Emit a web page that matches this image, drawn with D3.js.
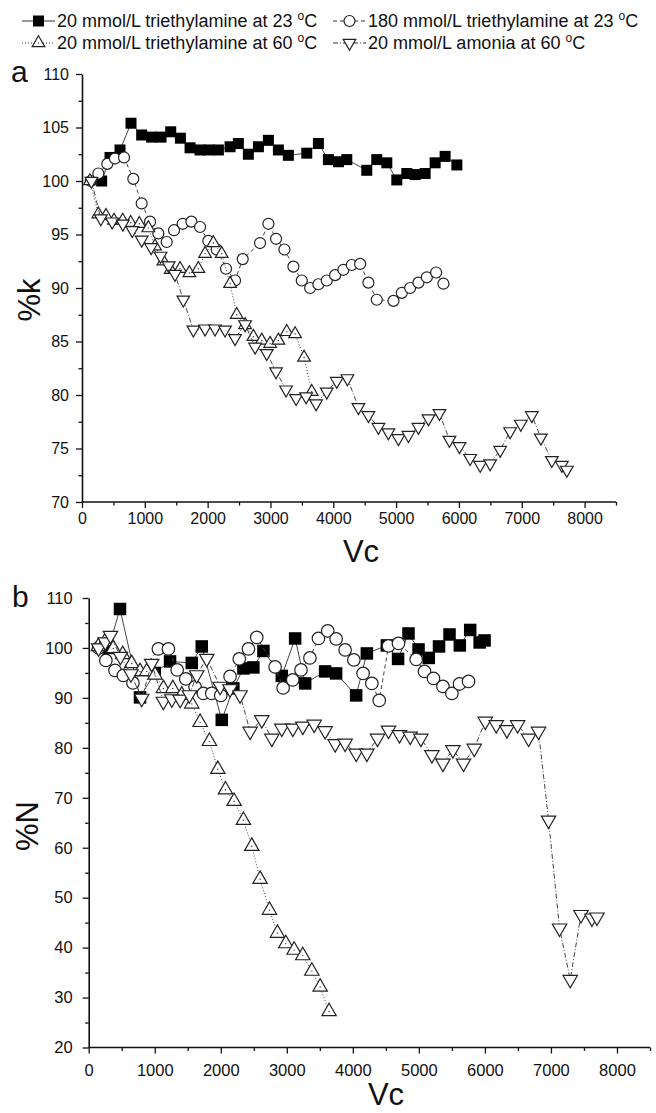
<!DOCTYPE html>
<html>
<head>
<meta charset="utf-8">
<script src="https://cdn.jsdelivr.net/npm/d3@7"></script>
<style>
  body { margin: 0; background: #fff; }
  svg text { font-family: "Liberation Sans", Arial, sans-serif; fill: #111; }
  .axis path, .axis line { stroke: #111; }
  .axis path { stroke-width: 1.6; }
  .axis line { stroke-width: 1.3; }
</style>
</head>
<body>
<div id="chart"></div>
<script>
// series: [Vc, value]
// panel a, %k
var kTEA20at23 = [[313,100],[446,102.2],[605,102.9],[780,105.4],[950,104.3],[1109,104.1],[1258,104.1],[1412,104.6],[1566,104.0],[1720,103.1],[1879,102.9],[2022,102.9],[2171,102.9],[2357,103.2],[2489,103.5],[2648,102.5],[2808,103.2],[2967,103.8],[3126,102.9],[3285,102.4],[3578,102.6],[3763,103.5],[3922,102.0],[4082,101.8],[4215,102.0],[4533,101.0],[4692,102.0],[4852,101.7],[5011,100.1],[5170,100.7],[5303,100.6],[5462,100.7],[5621,101.7],[5780,102.3],[5967,101.5]];
var kTEA180at23 = [[140,100],[260,100.7],[403,101.6],[525,102.1],[669,102.2],[817,100.2],[950,97.9],[1083,96.2],[1215,95.1],[1348,94.3],[1465,95.4],[1603,96.0],[1741,96.2],[1879,95.7],[2011,94.4],[2144,93.6],[2293,91.8],[2436,90.7],[2558,92.7],[2834,94.2],[2967,96.0],[3089,94.6],[3222,93.6],[3365,92.0],[3498,90.7],[3631,90.0],[3763,90.35],[3896,90.7],[4029,91.2],[4161,91.7],[4294,92.15],[4427,92.25],[4559,90.5],[4692,88.9],[4958,88.8],[5091,89.55],[5223,90.0],[5355,90.5],[5489,91.0],[5637,91.45],[5753,90.4]];
var kTEA20at60 = [[127,100],[260,96.9],[382,96.75],[510,96.3],[648,96.3],[775,96.1],[913,96.0],[1056,95.6],[1162,93.9],[1295,92.5],[1412,91.7],[1561,91.8],[1709,91.4],[1852,91.8],[1959,93.2],[2091,94.2],[2224,93.2],[2357,90.4],[2463,87.5],[2596,86.55],[2728,85.45],[2861,85.1],[2994,84.8],[3126,85.1],[3259,85.9],[3392,85.7],[3535,83.5],[3657,80.3]];
var kNH3at60 = [[150,100],[300,96.5],[480,96.2],[650,96.0],[800,95.4],[950,94.5],[1100,93.8],[1250,93.0],[1380,92.1],[1480,91.3],[1613,88.9],[1773,86.1],[1959,86.2],[2118,86.2],[2277,86.1],[2436,85.3],[2596,86.6],[2755,84.5],[2941,83.9],[3089,82.2],[3248,80.5],[3408,79.7],[3567,79.85],[3726,79.2],[3896,80.3],[4055,81.3],[4225,81.55],[4400,78.85],[4559,78.1],[4718,77.0],[4877,76.5],[5037,75.95],[5196,76.25],[5355,77.0],[5515,77.8],[5690,78.3],[5849,75.8],[6008,75.2],[6178,74.1],[6338,73.45],[6497,73.6],[6656,74.85],[6815,76.6],[6985,77.3],[7160,78.1],[7304,76.0],[7479,73.9],[7638,73.45],[7718,73.0]];

// panel b, %N
var nTEA20at23 = [[300,100],[474,107.8],[777,90.1],[1000,95],[1232,97.3],[1561,97.0],[1712,100.3],[2015,85.6],[2191,91.9],[2343,95.9],[2494,96.1],[2646,99.4],[2924,94.4],[3126,101.9],[3278,92.9],[3580,95.3],[3747,94.9],[4050,90.5],[4212,98.9],[4515,100.5],[4685,97.8],[4843,102.9],[4995,99.7],[5150,98.0],[5305,100.3],[5464,102.7],[5620,100.5],[5777,103.6],[5920,101.1],[5995,101.5]];
var nTEA180at23 = [[150,100],[260,97.5],[398,95.5],[525,94.5],[670,93.0],[1055,99.8],[1207,99.8],[1340,95.6],[1470,93.8],[1611,92.2],[1737,90.9],[1864,90.9],[2000,90.5],[2141,94.3],[2280,97.8],[2419,99.8],[2545,102.1],[2823,96.2],[2944,92.0],[3090,93.6],[3215,95.6],[3350,98.0],[3479,101.9],[3620,103.4],[3747,101.8],[3883,99.6],[4015,97.6],[4155,94.9],[4288,92.9],[4400,89.5],[4540,100.4],[4691,100.9],[4959,97.7],[5085,95.3],[5221,93.9],[5364,92.3],[5500,90.9],[5615,92.8],[5752,93.3]];
var nTEA20at60 = [[146,100.3],[247,101.3],[373,99.9],[515,98.7],[651,96.9],[777,95.3],[879,95.3],[1005,94.6],[1131,91.9],[1273,91.9],[1409,90.6],[1561,88.8],[1687,85.1],[1828,81.3],[1955,75.7],[2071,71.6],[2202,69.3],[2343,65.5],[2470,60.3],[2595,53.7],[2737,47.5],[2858,42.9],[2985,40.8],[3111,39.5],[3242,38.4],[3379,35.3],[3505,32.1],[3640,27.2]];
var nNH3at60 = [[150,100],[250,101.2],[330,102.5],[480,98.3],[640,94.8],[803,89.9],[954,96.9],[1131,89.3],[1260,89.8],[1384,89.7],[1525,90.6],[1636,94.6],[1788,97.9],[1990,92.3],[2140,91.8],[2292,90.6],[2444,83.3],[2621,85.6],[2773,81.9],[2924,83.9],[3091,83.9],[3242,84.3],[3414,84.7],[3580,83.4],[3732,80.8],[3883,80.9],[4050,78.9],[4212,78.9],[4373,81.9],[4540,83.5],[4706,82.6],[4868,82.3],[5030,81.9],[5197,78.6],[5364,76.9],[5515,79.6],[5676,76.9],[5838,79.9],[6005,85.3],[6171,84.6],[6333,83.6],[6495,84.6],[6661,81.9],[6812,83.3],[6964,65.5],[7130,43.9],[7292,33.6],[7455,46.6],[7621,45.9],[7697,46.1]];

var legendNames = ["20 mmol/L triethylamine at 23 ", "180 mmol/L triethylamine at 23 ",
                   "20 mmol/L triethylamine at 60 ", "20 mmol/L amonia at 60 "];
var xTicks = [0,1000,2000,3000,4000,5000,6000,7000,8000];
var kTicks = [70,75,80,85,90,95,100,105,110];
var nTicks = [20,30,40,50,60,70,80,90,100,110];

// marker / line style for each series (same order as legend)
var styles = [
  {sym: "square", dash: null},
  {sym: "circle", dash: "4,3"},
  {sym: "up",     dash: "1,2"},
  {sym: "down",   dash: "5,2,1,2"}
];

var W = 656, H = 1113;
var svg = d3.select("#chart").append("svg").attr("width", W).attr("height", H);

function drawMarker(g, type, size){
  if(type == "square"){
    g.append("rect").attr("x", -size/2).attr("y", -size/2).attr("width", size).attr("height", size)
     .attr("fill", "#000");
  } else if(type == "circle"){
    g.append("circle").attr("r", size/2).attr("fill", "#fff").attr("stroke", "#222").attr("stroke-width", 1.2);
  } else {
    var s = size*1.15, h = s*0.866;
    var pts = type == "up"
      ? [[0,-h*2/3],[s/2,h/3],[-s/2,h/3]]
      : [[0,h*2/3],[s/2,-h/3],[-s/2,-h/3]];
    g.append("polygon").attr("points", pts.map(p => p.join(",")).join(" "))
     .attr("fill", "#fff").attr("stroke", "#222").attr("stroke-width", 1.2);
    if(type == "up") g.append("circle").attr("r", 0.7).attr("fill", "#333");
  }
}

function drawPanel(opt){
  var x = d3.scaleLinear().domain([0, 8500]).range([opt.left, opt.right]);
  var y = d3.scaleLinear().domain(opt.yDomain).range([opt.bottom, opt.top]);
  var g = svg.append("g");

  // minor ticks
  g.append("g").attr("class","axis").attr("transform","translate(0,"+opt.bottom+")")
   .call(d3.axisBottom(x).tickValues(d3.range(500, 8600, 1000)).tickSize(3.5).tickFormat(""))
   .select(".domain").remove();
  g.append("g").attr("class","axis").attr("transform","translate("+opt.left+",0)")
   .call(d3.axisLeft(y).tickValues(opt.minor).tickSize(3.5).tickFormat(""))
   .select(".domain").remove();

  var xa = g.append("g").attr("class","axis").attr("transform","translate(0,"+opt.bottom+")")
   .call(d3.axisBottom(x).tickValues(xTicks).tickSize(6).tickSizeOuter(0)
           .tickPadding(opt.xPad).tickFormat(d3.format("d")));
  xa.selectAll("text").attr("font-size", opt.fs);
  xa.select(".domain").attr("d", "M"+opt.left+",0H"+opt.right);

  var ya = g.append("g").attr("class","axis").attr("transform","translate("+opt.left+",0)")
   .call(d3.axisLeft(y).tickValues(opt.yTicks).tickSize(6).tickSizeOuter(0)
           .tickPadding(opt.yPad).tickFormat(d3.format("d")));
  ya.selectAll("text").attr("font-size", opt.fs);

  opt.series.forEach(function(data, i){
    var st = styles[i];
    var line = d3.line().x(d => x(d[0])).y(d => y(d[1]));
    g.append("path").datum(data).attr("d", line).attr("fill","none")
     .attr("stroke", "#444").attr("stroke-width", 1)
     .attr("stroke-dasharray", st.dash);
    g.append("g").selectAll("g").data(data).enter().append("g")
     .attr("transform", d => "translate("+x(d[0])+","+y(d[1])+")")
     .each(function(){ drawMarker(d3.select(this), st.sym, opt.ms); });
  });

  svg.append("text").attr("x", opt.letter[0]).attr("y", opt.letter[1]).attr("font-size", 30).text(opt.name);
  svg.append("text").attr("x", opt.xTitle[0]).attr("y", opt.xTitle[1]).attr("font-size", 31)
     .attr("text-anchor","middle").text("Vc");
  svg.append("text").attr("transform","translate("+opt.yTitle[0]+","+opt.yTitle[1]+") rotate(-90)")
     .attr("font-size", 31).attr("text-anchor","middle").text(opt.yLabel);
}

drawPanel({name:"a", left:82, right:616, top:74, bottom:502, yDomain:[70,110],
  yTicks:kTicks, minor:d3.range(72.5, 110, 5), xPad:5, yPad:7, fs:16, ms:11,
  letter:[11,82], xTitle:[361,562], yTitle:[40,300], yLabel:"%k",
  series:[kTEA20at23, kTEA180at23, kTEA20at60, kNH3at60]});

drawPanel({name:"b", left:88.7, right:650, top:598, bottom:1047.5, yDomain:[20,110],
  yTicks:nTicks, minor:d3.range(25, 110, 10), xPad:11, yPad:10, fs:16.5, ms:12.5,
  letter:[12,607], xTitle:[386,1105], yTitle:[38,826], yLabel:"%N",
  series:[nTEA20at23, nTEA180at23, nTEA20at60, nNH3at60]});

// legend, two rows by two columns
var legPos = [[22,27],[333,27],[22,49],[333,49]];
legendNames.forEach(function(name, i){
  var p = legPos[i], st = styles[i];
  var lg = svg.append("g").attr("transform","translate("+p[0]+","+(p[1]-6)+")");
  lg.append("line").attr("x1",0).attr("x2",33).attr("stroke","#333").attr("stroke-width",1.2)
    .attr("stroke-dasharray", st.dash);
  var m = lg.append("g").attr("transform","translate(16.5,0)");
  drawMarker(m, st.sym, 11);
  var t = svg.append("text").attr("x", p[0]+35).attr("y", p[1]).attr("font-size", 18);
  t.append("tspan").text(name);
  t.append("tspan").attr("font-size", 12).attr("dy", -7).text("o");
  t.append("tspan").attr("dy", 7).text("C");
});
</script>
</body>
</html>
